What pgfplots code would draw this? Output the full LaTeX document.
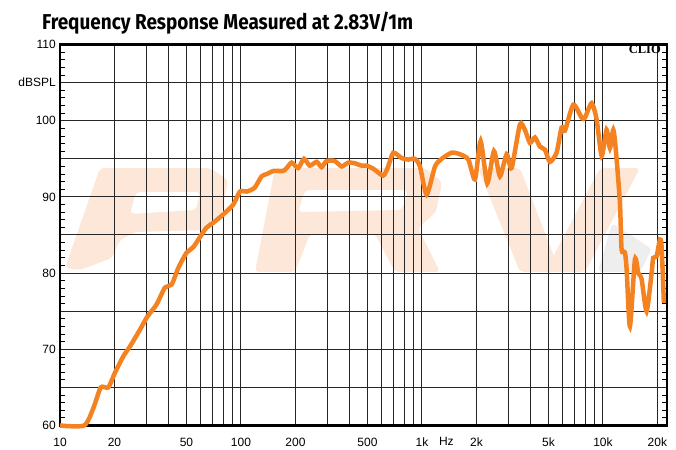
\documentclass[border=0pt]{standalone}
\usepackage{fontspec}
\setmainfont{Liberation Sans}
\newfontfamily\titlefont{Fira Sans}
\newfontfamily\seriffont{Liberation Serif}
\usepackage{pgfplots}
\pgfplotsset{compat=1.18}
\definecolor{curve}{RGB}{245,130,32}
\definecolor{wmpeach}{RGB}{253,231,216}
\definecolor{wmgray}{RGB}{238,238,238}
\begin{document}
\begin{tikzpicture}[x=1pt,y=1pt]
\useasboundingbox (0,0) rectangle (676,449);
% faint watermark logo behind the grid
\fill[wmpeach, rounded corners=4pt, even odd rule]
  (100,281) -- (210,281) -- (228,269) -- (222,237) -- (205,219) -- (135,217) -- (120,209) -- (112,191) -- (80,179) -- (65,181) -- cycle
  (136,257) -- (200,257) -- (196,239) -- (130,235) -- cycle;
\fill[wmpeach, rounded corners=4pt, even odd rule]
  (275,281) -- (425,281) -- (442,267) -- (436,237) -- (418,221) -- (440,177) -- (395,177) -- (375,215) -- (310,215) -- (295,177) -- (255,177) -- cycle
  (305,259) -- (408,259) -- (402,239) -- (298,237) -- cycle;
\fill[wmgray, rounded corners=4pt] (612,226) -- (652,200) -- (640,177) -- (598,177) -- cycle;
\fill[wmpeach, rounded corners=4pt] (478,281) -- (520,281) -- (560,177) -- (520,177) -- cycle;
\fill[wmpeach, rounded corners=4pt] (600,281) -- (640,281) -- (585,177) -- (545,177) -- cycle;
\node[anchor=base west, inner sep=0pt] at (42,419) {\scalebox{0.88}[1]{\titlefont\bfseries\fontsize{21.5}{24}\selectfont Frequency Response Measured at 2.83V/1m}};
\begin{axis}[
  at={(60pt,23.5pt)}, anchor=south west,
  scale only axis, width=607pt, height=381pt,
  xmode=log, xmin=10, xmax=22600, ymin=60, ymax=110,
  clip=false,
  axis line style={line width=2.4pt},
  xtick={10,20,30,40,50,60,70,80,90,100,200,300,400,500,600,700,800,900,1000,2000,3000,4000,5000,6000,7000,8000,9000,10000,20000},
  xticklabels={10,20,,,50,,,,,100,200,,,500,,,,,1k,2k,,,5k,,,,,10k,20k},
  extra x ticks={1365}, extra x tick labels={Hz},
  extra x tick style={grid=none, major tick length=0pt},
  xtick style={draw=none},
  ytick={60,65,...,110},
  yticklabels={60,,70,,80,,90,,100,dBSPL,110},
  minor y tick num=4,
  ytick pos=both,
  tick align=inside,
  major tick length=0pt, minor tick length=5pt,
  minor tick style={black, line width=0.8pt},
  xmajorgrids, ymajorgrids,
  grid style={black!85, line width=1pt},
  tick label style={font=\fontsize{12}{12}\selectfont, inner sep=0pt},
  xticklabel style={anchor=north, yshift=-12pt},
  yticklabel style={anchor=east, xshift=-4pt},
]
\addplot[color=curve, line width=4.5pt, smooth, tension=0.4] coordinates {
(10,60) (13.6,60) (15.3,62.3) (16.8,65.0) (18.5,65.0) (20.1,66.9) (22.4,69.1) (24.4,70.4) (27.7,72.6) (30.4,74.3) (34.2,75.9) (38.0,78.1) (41.4,78.5) (45.1,80.7) (50.1,82.7) (54.5,83.4) (64.1,85.9) (70.3,86.6) (79.8,87.7) (90.7,89.0) (98.7,90.7) (107.5,90.7) (119,91.2) (130,92.7) (139,93.0) (151,93.4) (171,93.4) (179,93.8) (190.5,94.5) (207,93.8) (223,95.0) (240,94.1) (262,94.6) (279,93.9) (297,94.7) (330,94.7) (360,94.0) (392,94.5) (427,94.4) (464,94.1) (495,94.1) (538,93.7) (611,92.8) (651,94.0) (694,95.8) (772,95.1) (840,94.9) (914,95.0) (975,94.0) (1062,90.3) (1181,94.0) (1286,95.0) (1459,95.8) (1622,95.6) (1804,94.9) (1964,92.3) (2110,97.3) (2296,91.8) (2500,96.0) (2698,92.7) (2938,95.6) (3130,93.8) (3477,99.5) (3705,98.8) (3950,97.1) (4210,97.8) (4485,96.6) (4780,96.2) (5093,94.6) (5545,95.8) (5910,99.1) (6170,98.7) (6860,102.1) (7625,100.4) (7955,100.4) (8660,102.3) (9225,100.2) (9840,95.4) (10480,98.8) (10930,96.4) (11410,98.8) (11800,96.0) (12420,89.2) (12680,83.1) (13230,82.7) (13520,80.5) (14100,73.0) (15030,81.8) (15680,80.0) (16360,79.2) (17430,75.0) (18580,80.0) (18970,82.0) (19800,82.2) (20650,84.4) (21090,83.5) (21720,76.1)
};
\end{axis}
\node[anchor=base east, inner sep=0pt] at (661,395) {\seriffont\bfseries\fontsize{12.5}{13}\selectfont CLIO};
\end{tikzpicture}
\end{document}
